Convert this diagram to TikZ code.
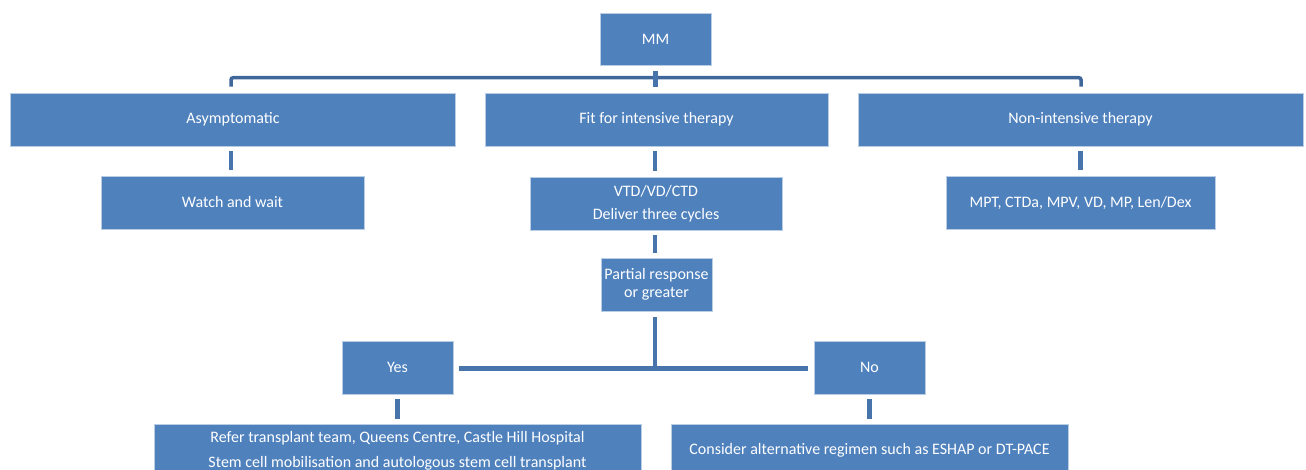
\documentclass[tikz,border=0pt]{standalone}
\usepackage{fontspec}
\setmainfont{Carlito}
\usetikzlibrary{calc}
\definecolor{boxblue}{RGB}{79,129,189}
\definecolor{boxedge}{RGB}{185,205,229}
\definecolor{linkblue}{RGB}{72,116,172}
\definecolor{busblue}{RGB}{64,103,154}
\tikzset{
  box/.style={rectangle, fill=boxblue, draw=boxedge, line width=0.5pt, text=white,
    inner sep=0pt, align=center, font=\fontsize{16}{19}\selectfont},
  conn/.style={draw=linkblue, line width=4.5pt},
  bus/.style={draw=busblue, line width=3.5pt}
}
\begin{document}
\begin{tikzpicture}[x=1pt, y=-1pt]
\clip (0,0) rectangle (1306,470);
\fill[white] (0,0) rectangle (1306,470);
% nodes
\node[box, minimum width=111pt, minimum height=52pt] (mm) at (655.5,39) {MM};
\node[box, minimum width=445pt, minimum height=53pt] (asym) at (233,119.5) {Asymptomatic};
\node[box, minimum width=343pt, minimum height=53pt] (fit) at (656.5,119.5) {Fit for intensive therapy};
\node[box, minimum width=445pt, minimum height=53pt] (non) at (1080.5,119.5) {Non-intensive therapy};
\node[box, minimum width=263pt, minimum height=53pt] (watch) at (232.5,202.5) {Watch and wait};
\node[box, minimum width=252pt, minimum height=53pt] (vtd) at (656,203.5) {VTD/VD/CTD\\[4pt]Deliver three cycles};
\node[box, minimum width=269pt, minimum height=53pt] (mpt) at (1080.5,202.5) {MPT, CTDa, MPV, VD, MP, Len/Dex};
\node[box, minimum width=111pt, minimum height=53pt] (partial) at (656.5,284.5) {Partial response\\[-1pt]or greater};
\node[box, minimum width=111pt, minimum height=53pt] (yes) at (397.5,367.5) {Yes};
\node[box, minimum width=111pt, minimum height=53pt] (no) at (869.5,367.5) {No};
\node[box, minimum width=487pt, minimum height=53pt] (refer) at (397.5,451) {Refer transplant team, Queens Centre, Castle Hill Hospital\\[6pt]Stem cell mobilisation and autologous stem cell transplant};
\node[box, minimum width=397pt, minimum height=53pt] (consider) at (869.5,450.5) {Consider alternative regimen such as ESHAP or DT-PACE};
% connectors
\coordinate (busL) at ($(asym.north)+(-2,-15)$);
\draw[bus, rounded corners=2pt] ($(asym.north)+(-2,-6)$) -- (busL) -| ($(non.north)+(0.5,-6)$);
\draw[conn] ($(mm.south)+(0,6)$) -- ($(mm.south |- fit.north)+(0,-6)$);
\draw[conn, shorten <=5pt, shorten >=6pt] ($(asym.south)+(-2,0)$) -- ($(asym.south |- watch.north)+(-2,0)$);
\draw[conn, shorten <=5pt, shorten >=6pt] ($(fit.south)+(-1.5,0)$) -- ($(fit.south |- vtd.north)+(-1.5,0)$);
\draw[conn, shorten <=5pt, shorten >=6pt] (non.south) -- (non.south |- mpt.north);
\draw[conn, shorten <=5pt, shorten >=5pt] ($(vtd.south)+(-1,0)$) -- ($(vtd.south |- partial.north)+(-1,0)$);
\draw[conn] ($(partial.south)+(-1.5,6)$) -- ($(partial.south |- yes.east)+(-1.5,2)$);
\draw[conn, shorten <=6pt, shorten >=6pt] ($(yes.east)+(0,1)$) -- ($(no.west)+(0,1)$);
\draw[conn, shorten <=5pt, shorten >=5pt] (yes.south) -- (yes.south |- refer.north);
\draw[conn, shorten <=5pt, shorten >=5pt] (no.south) -- (no.south |- consider.north);
\end{tikzpicture}
\end{document}
